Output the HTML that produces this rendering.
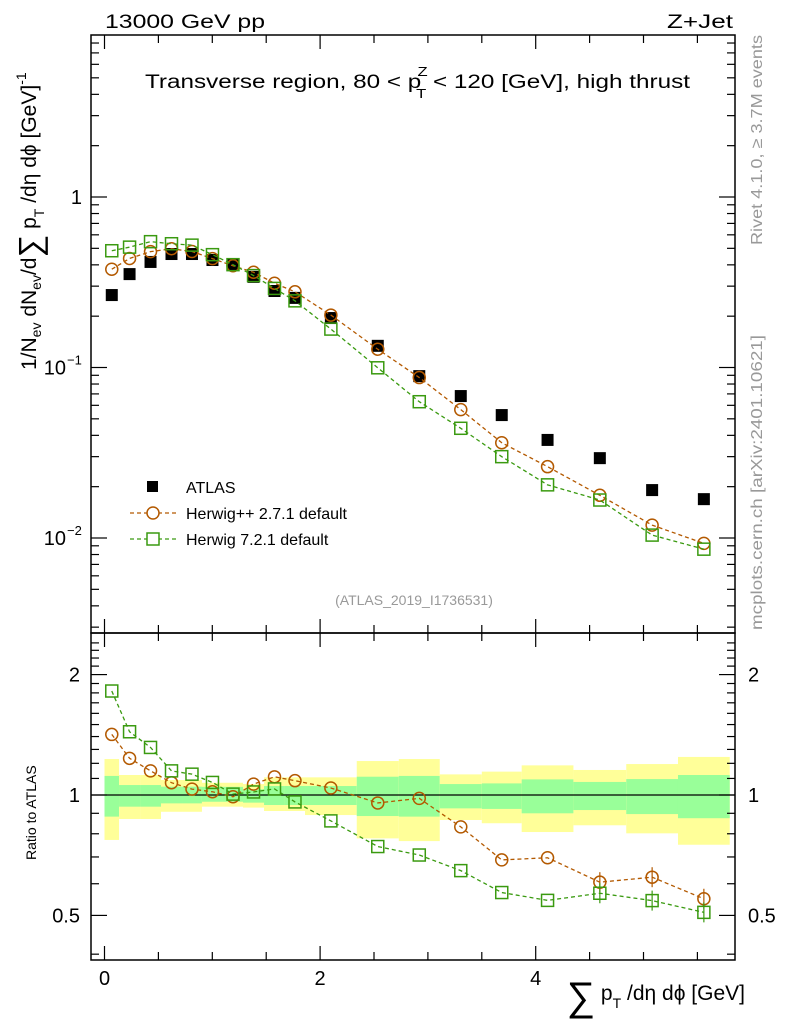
<!DOCTYPE html>
<html><head><meta charset="utf-8"><style>
html,body{margin:0;padding:0;background:#fff}
svg{display:block;font-family:"Liberation Sans",sans-serif}
</style></head><body>
<svg id="c" width="786" height="1024" viewBox="0 0 786 1024" xmlns="http://www.w3.org/2000/svg">
<g id="bands"></g>
<g id="frames"></g>
<g id="marks"></g>
<g id="texts">
<text x="105" y="28" font-size="19" textLength="160" lengthAdjust="spacingAndGlyphs">13000 GeV pp</text>
<text x="733" y="28" font-size="19" text-anchor="end" textLength="66" lengthAdjust="spacingAndGlyphs">Z+Jet</text>
<text x="145" y="88" font-size="19" textLength="545" lengthAdjust="spacingAndGlyphs">Transverse region, 80 &lt; p<tspan font-size="13" dy="-12" dx="-3">Z</tspan><tspan font-size="13" dy="22" dx="-9">T</tspan><tspan dy="-10"> &lt; 120 [GeV], high thrust</tspan></text>
<text x="414" y="605" font-size="14" fill="#999" text-anchor="middle">(ATLAS_2019_I1736531)</text>
<text transform="translate(762,245) rotate(-90)" font-size="16" fill="#999" textLength="210" lengthAdjust="spacingAndGlyphs">Rivet 4.1.0, ≥ 3.7M events</text>
<text transform="translate(762,630) rotate(-90)" font-size="16" fill="#999" textLength="295" lengthAdjust="spacingAndGlyphs">mcplots.cern.ch [arXiv:2401.10621]</text>
<text transform="translate(36,370) rotate(-90)" font-size="21">1/N<tspan font-size="14" dy="5">ev</tspan><tspan dy="-5"> dN</tspan><tspan font-size="14" dy="5">ev</tspan><tspan dy="-5">/d</tspan><tspan font-size="32" dy="5">∑</tspan><tspan dy="-5"> p</tspan><tspan font-size="14" dy="8">T</tspan><tspan dy="-8"> /dη dϕ  [GeV]</tspan><tspan font-size="14" dy="-10">-1</tspan></text>
<text transform="translate(36,860) rotate(-90)" font-size="14">Ratio to ATLAS</text>
<text x="745" y="1000" font-size="21" text-anchor="end"><tspan font-size="40" dy="10">∑</tspan><tspan dy="-10"> p</tspan><tspan font-size="14" dy="8">T</tspan><tspan dy="-8"> /dη dϕ [GeV]</tspan></text>
</g>
<g id="legend">
<rect x="147" y="481" width="11" height="11" fill="#000"/>
<text x="186" y="493" font-size="16">ATLAS</text>
<line x1="130" y1="513" x2="176" y2="513" stroke="#b35900" stroke-width="1.3" stroke-dasharray="4,3"/>
<circle cx="153" cy="513" r="6" fill="#fff" stroke="#b35900" stroke-width="1.5"/>
<text x="186" y="519" font-size="16">Herwig++ 2.7.1 default</text>
<line x1="130" y1="539" x2="176" y2="539" stroke="#3a9a10" stroke-width="1.3" stroke-dasharray="4,3"/>
<rect x="147" y="533" width="12" height="12" fill="#fff" stroke="#3a9a10" stroke-width="1.5"/>
<text x="186" y="545" font-size="16">Herwig 7.2.1 default</text>
</g>
</svg>
<script>
const edges=[0,0.135,0.33,0.524,0.719,0.904,1.099,1.285,1.48,1.674,1.86,2.34,2.73,3.11,3.50,3.87,4.35,4.84,5.32,5.80];
const atlas=[0.266,0.353,0.416,0.463,0.463,0.427,0.399,0.34,0.281,0.256,0.195,0.134,0.089,0.068,0.0526,0.0376,0.0294,0.0191,0.0169];
const herwigpp=[0.377,0.436,0.478,0.497,0.479,0.435,0.395,0.362,0.312,0.278,0.203,0.128,0.0873,0.0566,0.0362,0.0262,0.0178,0.0119,0.0093];
const herwig7=[0.484,0.508,0.547,0.532,0.522,0.459,0.401,0.346,0.291,0.246,0.168,0.0996,0.063,0.044,0.030,0.0205,0.0167,0.0104,0.0086];
const yelHi=[1.23,1.122,1.122,1.09,1.09,1.073,1.073,1.065,1.107,1.107,1.107,1.216,1.23,1.126,1.144,1.186,1.155,1.195,1.245];
const yelLo=[0.772,0.871,0.871,0.908,0.908,0.935,0.935,0.93,0.912,0.912,0.891,0.779,0.767,0.866,0.85,0.808,0.84,0.802,0.751];
const grnHi=[1.116,1.059,1.059,1.049,1.049,1.048,1.048,1.033,1.053,1.053,1.053,1.111,1.116,1.065,1.069,1.094,1.078,1.096,1.122];
const grnLo=[0.883,0.935,0.935,0.953,0.953,0.962,0.962,0.957,0.944,0.944,0.944,0.886,0.883,0.926,0.923,0.9,0.917,0.896,0.875];
const xTicks=[0,2,4];
const ratioTicks=[0.5,1,2];

const NS="http://www.w3.org/2000/svg";
const L=91,R=735,T=35,M=633,B=960;
const X=v=>104.5+v*107.8;
const Y=v=>197-170.5*Math.log10(v);
const RY=v=>795-400*Math.log10(v);
function mk(parent,tag,attrs){const e=document.createElementNS(NS,tag);for(const k in attrs)e.setAttribute(k,attrs[k]);parent.appendChild(e);return e;}
const bands=document.getElementById('bands'),frames=document.getElementById('frames'),marks=document.getElementById('marks'),texts=document.getElementById('texts');

for(let i=0;i<atlas.length;i++){
  const x1=X(edges[i]),x2=X(edges[i+1]);
  let r=mk(bands,'rect',{x:x1,y:RY(yelHi[i]),width:x2-x1,height:RY(yelLo[i])-RY(yelHi[i]),fill:'#ffff99'});
  
  
  r=mk(bands,'rect',{x:x1,y:RY(grnHi[i]),width:x2-x1,height:RY(grnLo[i])-RY(grnHi[i]),fill:'#99ff99'});
  
  
}
mk(frames,'line',{x1:L,x2:R,y1:795,y2:795,stroke:'#000','stroke-width':1.3});
mk(frames,'rect',{x:L,y:T,width:R-L,height:M-T,fill:'none',stroke:'#000','stroke-width':1.5});
mk(frames,'rect',{x:L,y:M,width:R-L,height:B-M,fill:'none',stroke:'#000','stroke-width':1.5});
for(let v=0;v<=5.8;v+=0.5){
  const big=Math.abs(v%2)<1e-6;
  const len=big?14:8;
  for(const [yb,dir] of [[M,-1],[T,1],[B,-1],[M,1]]){mk(frames,'line',{x1:X(v),x2:X(v),y1:yb,y2:yb+dir*len,stroke:'#000','stroke-width':1.2});}
}
xTicks.forEach(v=>{const t=mk(texts,'text',{x:X(v),y:985,'font-size':20,'text-anchor':'middle'});t.textContent=v;

});
for(let d=-3;d<=0;d++){for(let k=1;k<10;k++){const v=k*Math.pow(10,d);const y=Y(v);if(y<T||y>M)continue;const len=k==1?16:8;
mk(frames,'line',{x1:L,x2:L+len,y1:y,y2:y,stroke:'#000','stroke-width':1.2});mk(frames,'line',{x1:R,x2:R-len,y1:y,y2:y,stroke:'#000','stroke-width':1.2});}}
[[1,'1',''],[0.1,'10','−1'],[0.01,'10','−2']].forEach(([v,b,e])=>{const t=mk(texts,'text',{x:e?66:82,y:Y(v)+7,'font-size':20,'text-anchor':'end'});t.textContent=b;


if(e){const s=mk(texts,'text',{x:67,y:Y(v)-3,'font-size':13});s.textContent=e;}});
for(let v=0.4;v<=2.5;v+=0.1){const y=RY(v);if(y<M||y>B)continue;const big=[0.5,1,2].some(q=>Math.abs(q-v)<1e-6);const len=big?16:8;
mk(frames,'line',{x1:L,x2:L+len,y1:y,y2:y,stroke:'#000','stroke-width':1.2});mk(frames,'line',{x1:R,x2:R-len,y1:y,y2:y,stroke:'#000','stroke-width':1.2});}
ratioTicks.forEach(v=>{for(const [x,a] of [[80,'end'],[748,'start']]){const t=mk(texts,'text',{x:x,y:RY(v)+7,'font-size':20,'text-anchor':a});t.textContent=v;

}});

const mid=i=>(edges[i]+edges[i+1])/2;
function series(vals,color,shape,ratio){
  const yf=ratio?(i=>RY(vals[i]/atlas[i])):(i=>Y(vals[i]));
  const pts=vals.map((v,i)=>X(mid(i))+','+yf(i)).join(' ');
  const pl=mk(marks,'polyline',{points:pts,fill:'none',stroke:color,'stroke-width':1.3,'stroke-dasharray':'4,3'});
  
  
  vals.forEach((v,i)=>{const x=X(mid(i)),y=yf(i);let m;
    if(ratio&&i>=16){mk(marks,'line',{x1:x,x2:x,y1:y-10,y2:y+10,stroke:color,'stroke-width':1.2});}
    if(shape=='c')m=mk(marks,'circle',{cx:x,cy:y,r:6,fill:'none',stroke:color,'stroke-width':1.5});
    else m=mk(marks,'rect',{x:x-6,y:y-6,width:12,height:12,fill:'none',stroke:color,'stroke-width':1.5});
    
    });
}
atlas.forEach((v,i)=>{const r=mk(marks,'rect',{x:X(mid(i))-6,y:Y(v)-6,width:12,height:12,fill:'#000'});

});
series(herwigpp,'#b35900','c',false);
series(herwig7,'#3a9a10','s',false);
series(herwigpp,'#b35900','c',true);
series(herwig7,'#3a9a10','s',true);
</script>
</body></html>
